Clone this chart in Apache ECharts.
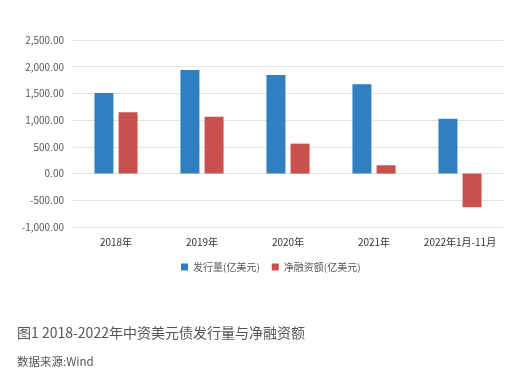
<!DOCTYPE html>
<html><head><meta charset="utf-8">
<script src="https://cdn.jsdelivr.net/npm/echarts@6/dist/echarts.min.js"></script>
<style>html,body{margin:0;padding:0;background:#fff}#c{width:513px;height:384px}</style>
</head><body><div id="c"></div>
<script>
const categories = ['2018年','2019年','2020年','2021年','2022年1月-11月'];
const issuance = [1510, 1940, 1845, 1670, 1025];
const netFinancing = [1150, 1065, 560, 155, -630];
const seriesNames = ['发行量(亿美元)','净融资额(亿美元)'];
const captionText = '图1 2018-2022年中资美元债发行量与净融资额';
const sourceText = '数据来源:Wind';

const chart = echarts.init(document.getElementById('c'));
chart.setOption({
  animation:false,
  backgroundColor:'#fff',
  textStyle:{fontFamily:'"Noto Sans CJK SC", sans-serif'},
  title:[
    {text:captionText,left:12,top:321,textStyle:{fontSize:14,fontWeight:'normal',color:'#555',fontFamily:'"Noto Sans CJK SC", serif'}},
    {text:sourceText,left:12,top:351,textStyle:{fontSize:11.5,fontWeight:'normal',color:'#555',fontFamily:'"Noto Sans CJK SC", monospace'}}
  ],
  legend:{
    data:seriesNames, left:176, top:257, icon:'rect', itemWidth:7, itemHeight:7, itemGap:12,
    textStyle:{fontSize:10,color:'#595959'}
  },
  grid:{left:73,right:10,top:40,bottom:157},
  xAxis:{
    type:'category', data:categories,
    axisLine:{show:false}, axisTick:{show:false},
    axisLabel:{fontSize:10,color:'#333',margin:10,interval:0}
  },
  yAxis:{
    type:'value', min:-1000, max:2500, interval:500,
    axisLine:{show:false}, axisTick:{show:false},
    splitLine:{lineStyle:{color:'#e3e3e3'}},
    axisLabel:{fontSize:10,color:'#595959',margin:9,
      formatter:v=>v.toLocaleString('en-US',{minimumFractionDigits:2,maximumFractionDigits:2})}
  },
  series:[
    {name:seriesNames[0],type:'bar',data:issuance,barWidth:19,barGap:'27%',itemStyle:{color:'#2f7fc1'}},
    {name:seriesNames[1],type:'bar',data:netFinancing,barWidth:19,itemStyle:{color:'#c8504d'}}
  ]
});
</script></body></html>
